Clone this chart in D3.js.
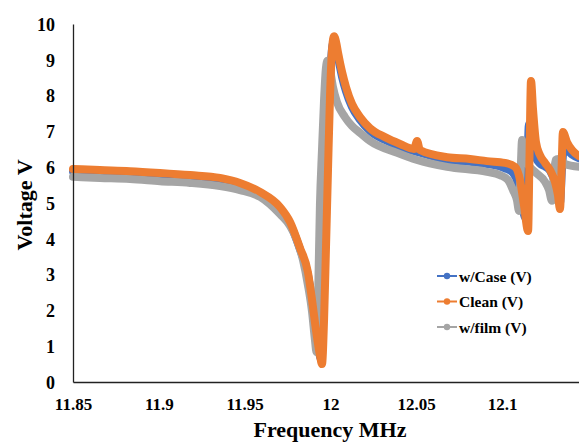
<!DOCTYPE html>
<html>
<head>
<meta charset="utf-8">
<script src="https://cdn.jsdelivr.net/npm/d3@7"></script>
<style>
  body { margin: 0; background: #fff; }
  svg { display: block; }
  text { font-family: "Liberation Serif", "Times New Roman", serif; font-weight: bold; fill: #000; }
</style>
</head>
<body>
<svg id="chart"></svg>
<script>
// frequency (MHz) / voltage (V)
const caseFreq = [11.85, 11.8657, 11.8832, 11.9007, 11.9182, 11.9357, 11.9473, 11.959, 11.9706, 11.9765, 11.9823, 11.9869, 11.9893, 11.9916, 11.9933, 11.9945, 11.9957, 11.9969, 11.998, 11.9992, 12.0004, 12.0015, 12.0027, 12.0045, 12.0068, 12.0091, 12.0126, 12.0173, 12.0231, 12.0318, 12.0406, 12.0505, 12.068, 12.0814, 12.0913, 12.1017, 12.1064, 12.1093, 12.1117, 12.1134, 12.1146, 12.1157, 12.1169, 12.1186, 12.1221, 12.1251, 12.128, 12.1309, 12.1326, 12.1338, 12.135, 12.1361, 12.1385, 12.1408, 12.1449];
const caseVolt = [5.88, 5.86, 5.83, 5.78, 5.72, 5.64, 5.5, 5.25, 4.82, 4.42, 3.7, 3.0, 2.3, 1.4, 0.85, 0.65, 1.9, 3.8, 5.9, 7.8, 9.0, 9.45, 9.4, 9.05, 8.52, 8.12, 7.68, 7.32, 7.01, 6.76, 6.57, 6.43, 6.21, 6.15, 6.09, 5.97, 5.84, 5.55, 5.0, 4.6, 5.7, 7.2, 6.8, 6.4, 6.1, 6.02, 5.9, 5.55, 5.2, 5.0, 6.0, 6.55, 6.45, 6.35, 6.25];

const cleanFreq = [11.85, 11.8657, 11.8832, 11.9007, 11.9182, 11.9357, 11.9473, 11.959, 11.9706, 11.9765, 11.9823, 11.9869, 11.9893, 11.9916, 11.9939, 11.9951, 11.9963, 11.9974, 11.9986, 11.9998, 12.001, 12.0021, 12.0033, 12.0045, 12.0068, 12.0091, 12.0126, 12.0173, 12.0231, 12.0318, 12.0406, 12.0487, 12.0505, 12.0522, 12.068, 12.0814, 12.0913, 12.1017, 12.1076, 12.1105, 12.1128, 12.1152, 12.116, 12.1169, 12.1181, 12.1198, 12.1221, 12.1251, 12.128, 12.1309, 12.1326, 12.1338, 12.1347, 12.1355, 12.1379, 12.1408, 12.1449];
const cleanVolt = [5.95, 5.92, 5.89, 5.84, 5.78, 5.7, 5.56, 5.31, 4.89, 4.47, 3.74, 3.07, 2.29, 1.45, 0.75, 0.5, 1.73, 3.69, 5.92, 8.02, 9.33, 9.66, 9.5, 9.19, 8.66, 8.24, 7.77, 7.4, 7.09, 6.84, 6.65, 6.51, 6.73, 6.48, 6.28, 6.23, 6.17, 6.12, 6.01, 5.64, 4.94, 4.22, 6.2, 8.41, 7.6, 6.7, 6.34, 6.12, 5.92, 5.59, 5.22, 4.83, 5.92, 6.98, 6.7, 6.48, 6.31];

const filmFreq = [11.85, 11.8657, 11.8832, 11.9007, 11.9182, 11.9357, 11.9473, 11.959, 11.9706, 11.9765, 11.98, 11.984, 11.9869, 11.9893, 11.991, 11.9919, 11.9928, 11.9939, 11.9951, 11.9963, 11.9974, 11.9983, 11.9998, 12.0015, 12.0038, 12.0085, 12.0126, 12.0173, 12.0231, 12.0389, 12.0505, 12.068, 12.0913, 12.0988, 12.1035, 12.1064, 12.1087, 12.1099, 12.1108, 12.1117, 12.1128, 12.1146, 12.1192, 12.1251, 12.1274, 12.1291, 12.13, 12.1312, 12.1326, 12.1367, 12.1449];
const filmVolt = [5.73, 5.7, 5.67, 5.61, 5.56, 5.47, 5.36, 5.17, 4.69, 4.36, 4.02, 3.41, 2.71, 1.96, 1.17, 0.84, 2.29, 4.94, 6.48, 7.88, 8.77, 8.97, 8.72, 8.24, 7.82, 7.4, 7.15, 6.96, 6.73, 6.4, 6.2, 6.01, 5.87, 5.78, 5.64, 5.36, 5.08, 4.78, 5.78, 6.76, 6.42, 6.12, 5.87, 5.59, 5.36, 5.06, 5.64, 6.2, 6.23, 6.09, 6.01];

const seriesNames = ["w/Case (V)", "Clean (V)", "w/film (V)"];
const seriesColors = ["#4472C4", "#ED7D31", "#A5A5A5"];
const xTicks = [11.85, 11.9, 11.95, 12, 12.05, 12.1];
const yTicks = [0, 1, 2, 3, 4, 5, 6, 7, 8, 9, 10];

const width = 579, height = 443;
const margin = { top: 24, left: 73, bottom: 61 };
const svg = d3.select("#chart").attr("width", width).attr("height", height);

const x = d3.scaleLinear().domain([11.85, 12.15]).range([margin.left, margin.left + 0.3 * 1716]);
const y = d3.scaleLinear().domain([0, 10]).range([height - margin.bottom, margin.top]);

const zip = (fs, vs) => fs.map((f, i) => ({ f: f, v: vs[i] }));
const series = [
  { name: seriesNames[0], color: seriesColors[0], data: zip(caseFreq, caseVolt) },
  { name: seriesNames[1], color: seriesColors[1], data: zip(cleanFreq, cleanVolt) },
  { name: seriesNames[2], color: seriesColors[2], data: zip(filmFreq, filmVolt) },
];

const line = d3.line().x(d => x(d.f)).y(d => y(d.v)).curve(d3.curveMonotoneX);

// draw order: case, film, clean on top
const drawOrder = [series[0], series[2], series[1]];
svg.append("g").selectAll("path").data(drawOrder).join("path")
  .attr("d", d => line(d.data))
  .attr("fill", "none")
  .attr("stroke", d => d.color)
  .attr("stroke-width", 8)
  .attr("stroke-linecap", "round")
  .attr("stroke-linejoin", "round");

// axes
const xAxis = svg.append("g").attr("transform", `translate(0,${y(0)})`)
  .call(d3.axisBottom(x).tickValues(xTicks).tickSize(0).tickSizeOuter(0).tickFormat(d => d));
xAxis.select(".domain").attr("stroke", "#222").attr("stroke-width", 1.3);
xAxis.selectAll("text").attr("y", 28).attr("dy", 0).style("font-size", "17px")
  .style("font-family", "Liberation Serif").style("font-weight", "bold");

const yAxis = svg.append("g").attr("transform", `translate(${margin.left},0)`)
  .call(d3.axisLeft(y).tickValues(yTicks).tickSize(0).tickSizeOuter(0).tickPadding(18));
yAxis.select(".domain").attr("stroke", "#222").attr("stroke-width", 1.3);
yAxis.selectAll("text").attr("dy", "0.35em").style("font-size", "18px")
  .style("font-family", "Liberation Serif").style("font-weight", "bold");

// axis titles
svg.append("text").attr("x", 330).attr("y", 437).attr("text-anchor", "middle")
  .style("font-size", "22px").text("Frequency MHz");
svg.append("text").attr("transform", "translate(32,205) rotate(-90)").attr("text-anchor", "middle")
  .style("font-size", "22px").text("Voltage V");

// legend
const legend = svg.append("g").selectAll("g").data(series).join("g")
  .attr("transform", (d, i) => `translate(437,${276 + i * 25.5})`);
legend.append("line").attr("x1", 0).attr("x2", 20).attr("stroke", d => d.color).attr("stroke-width", 2);
legend.append("circle").attr("cx", 10).attr("r", 3.2).attr("fill", d => d.color);
legend.append("text").attr("x", 22).attr("y", 5.5).style("font-size", "15.5px").text(d => d.name);
</script>
</body>
</html>
